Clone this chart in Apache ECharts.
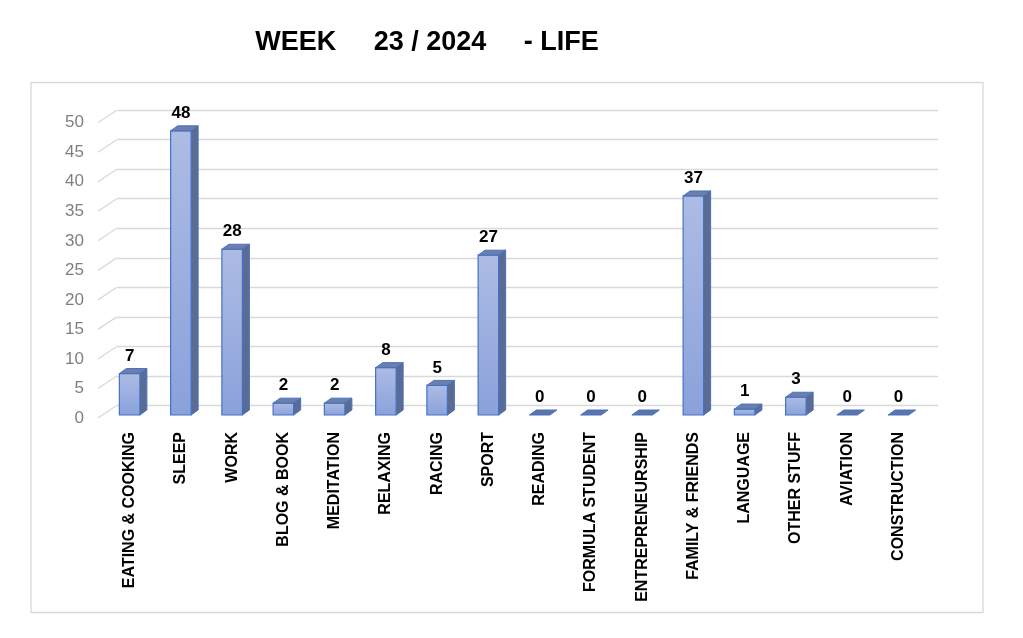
<!DOCTYPE html>
<html>
<head>
<meta charset="utf-8">
<script src="https://cdn.jsdelivr.net/npm/echarts@6/dist/echarts.min.js"></script>
<style>
  html, body { margin: 0; padding: 0; background: #ffffff; }
  #chart { width: 1023px; height: 638px; }
</style>
</head>
<body>
<div id="chart"></div>
<script>
const titleText = 'WEEK     23 / 2024     - LIFE';
const categories = [
  'EATING & COOKING', 'SLEEP', 'WORK', 'BLOG & BOOK', 'MEDITATION', 'RELAXING',
  'RACING', 'SPORT', 'READING', 'FORMULA STUDENT', 'ENTREPRENEURSHIP',
  'FAMILY & FRIENDS', 'LANGUAGE', 'OTHER STUFF', 'AVIATION', 'CONSTRUCTION'
];
const hours = [7, 48, 28, 2, 2, 8, 5, 27, 0, 0, 0, 37, 1, 3, 0, 0];
const yTickValues = [0, 5, 10, 15, 20, 25, 30, 35, 40, 45, 50];

const FONT = '"Liberation Sans", Arial, sans-serif';
const DX = 7, DY = -5;          // bar depth offset (px)
const GDX = 18.7, GDY = -12.5;  // wall depth offset (px)

const chart = echarts.init(document.getElementById('chart'), null, { renderer: 'canvas' });

function renderBar(params, api) {
  const idx = api.value(0);
  const v = api.value(1);
  const base = api.coord([idx, 0]);
  const top = api.coord([idx, v]);
  const w = api.size([1, 0])[0] * 0.4;
  const x0 = base[0] - w / 2, x1 = base[0] + w / 2;
  const yb = base[1], yt = top[1];
  const stroke = '#4472c4';
  const children = [];
  if (yb - yt > 0.5) {
    children.push({
      type: 'polygon',
      shape: { points: [[x1, yb], [x1 + DX, yb + DY], [x1 + DX, yt + DY], [x1, yt]] },
      style: { fill: '#5b6b92', stroke: stroke, lineWidth: 1 }
    });
    children.push({
      type: 'rect',
      shape: { x: x0, y: yt, width: w, height: yb - yt },
      style: {
        fill: new echarts.graphic.LinearGradient(0, 0, 0, 1, [
          { offset: 0, color: '#adbce4' },
          { offset: 1, color: '#8aa1db' }
        ]),
        stroke: stroke, lineWidth: 1.2
      }
    });
  }
  children.push({
    type: 'polygon',
    shape: { points: [[x0, yt], [x1, yt], [x1 + DX, yt + DY], [x0 + DX, yt + DY]] },
    style: { fill: yb - yt > 0.5 ? '#6c7ea9' : '#5f74a6', stroke: stroke, lineWidth: 1 }
  });
  children.push({
    type: 'text',
    style: {
      text: String(v),
      x: base[0],
      y: yt + DY - 4,
      align: 'center',
      verticalAlign: 'bottom',
      fontFamily: FONT,
      fontWeight: 'bold',
      fontSize: 17,
      fill: '#000000'
    }
  });
  return { type: 'group', children: children };
}

function renderDiag(params, api) {
  const p = api.coord([0, api.value(1)]);
  return {
    type: 'line',
    shape: { x1: p[0], y1: p[1], x2: p[0] + GDX, y2: p[1] + GDY },
    style: { stroke: '#d9d9d9', lineWidth: 1.3 }
  };
}

const option = {
  backgroundColor: '#ffffff',
  animation: false,
  title: {
    text: titleText,
    left: 422,
    textAlign: 'center',
    top: 22,
    textStyle: { fontFamily: FONT, fontWeight: 'bold', fontSize: 27, color: '#000000', lineHeight: 32 }
  },
  graphic: [{
    type: 'rect',
    shape: { x: 31, y: 82.5, width: 952, height: 530 },
    style: { fill: 'none', stroke: '#d9d9d9', lineWidth: 1.3 },
    silent: true, z: -1
  }],
  grid: [
    { left: 104, right: 99, top: 119, bottom: 223 },
    { left: 117, right: 85, top: 110, bottom: 232.3 },
    { left: 98, right: 85, top: 122.7, bottom: 220 }
  ],
  xAxis: [
    {
      type: 'category', gridIndex: 0, data: categories,
      axisLine: { show: false }, axisTick: { show: false },
      axisLabel: {
        interval: 0, rotate: 90, margin: 17,
        fontFamily: FONT, fontWeight: 'bold', fontSize: 16, color: '#000000'
      }
    },
    { type: 'value', gridIndex: 1, show: false, min: 0, max: 1 },
    { type: 'value', gridIndex: 2, show: false, min: 0, max: 1 }
  ],
  yAxis: [
    { type: 'value', gridIndex: 0, min: 0, max: 50, interval: 5, show: false },
    {
      type: 'value', gridIndex: 1, min: 0, max: 50, interval: 5,
      axisLine: { show: false }, axisTick: { show: false }, axisLabel: { show: false },
      splitLine: { show: true, lineStyle: { color: '#d9d9d9', width: 1.3 } }
    },
    {
      type: 'value', gridIndex: 2, min: 0, max: 50, interval: 5,
      axisLine: { show: false }, axisTick: { show: false }, splitLine: { show: false },
      axisLabel: { margin: 14, padding: [5, 0, 0, 0], fontFamily: FONT, fontSize: 17, color: '#7f7f7f' }
    }
  ],
  series: [
    {
      type: 'custom', name: 'wall', xAxisIndex: 2, yAxisIndex: 2,
      renderItem: renderDiag, data: yTickValues.map(t => [0, t]), silent: true, z: 1
    },
    {
      type: 'custom', name: 'Hours', xAxisIndex: 0, yAxisIndex: 0,
      renderItem: renderBar, clip: false, z: 3,
      data: hours.map((v, i) => [i, v])
    }
  ]
};
chart.setOption(option);
</script>
</body>
</html>
